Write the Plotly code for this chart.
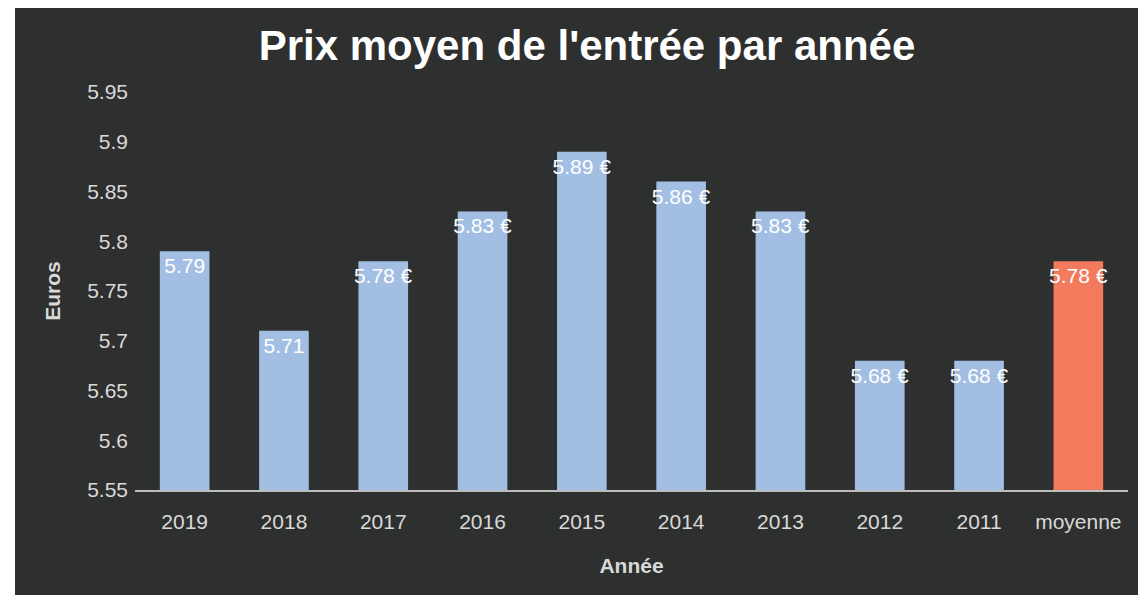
import plotly.graph_objects as go

# Data
annees = ["2019", "2018", "2017", "2016", "2015", "2014", "2013", "2012", "2011", "moyenne"]
prix = [5.79, 5.71, 5.78, 5.83, 5.89, 5.86, 5.83, 5.68, 5.68, 5.78]
etiquettes = ["5.79", "5.71", "5.78 €", "5.83 €", "5.89 €", "5.86 €", "5.83 €", "5.68 €", "5.68 €", "5.78 €"]
y_ticks = [5.55, 5.6, 5.65, 5.7, 5.75, 5.8, 5.85, 5.9, 5.95]

BLUE = "#a3bee3"
RED = "#f47a5e"
BG = "#2e302f"
TXT = "#d9d9d9"

# the page puts the figure 8px in from the top-left corner
W, H = 1138, 594
L, R, T, B = 127, 18, 84, 112

couleurs = [BLUE] * (len(annees) - 1) + [RED]

fig = go.Figure(go.Bar(
    x=annees, y=prix, base=0,
    marker=dict(color=couleurs, line=dict(width=0)),
    text=etiquettes,
    textposition="inside",
    insidetextanchor="end",
    textangle=0,
    constraintext="none",
    textfont=dict(color="white", size=21, family="Liberation Sans"),
    cliponaxis=False,
))

# dark panel of the photographed screen, white margins left and bottom
pw, ph = W - L - R, H - T - B
fig.add_shape(type="rect", xref="paper", yref="paper", layer="below",
              x0=(7 - L) / pw, x1=(W - L) / pw,
              y0=(H - B - 587) / ph, y1=(H - B - 0) / ph,
              fillcolor=BG, line=dict(width=0))

fig.update_layout(
    width=W, height=H,
    margin=dict(l=L, r=R, t=T, b=B),
    paper_bgcolor="white",
    plot_bgcolor="rgba(0,0,0,0)",
    bargap=0.5,
    showlegend=False,
    font=dict(family="Liberation Sans", color=TXT, size=21),
    title=dict(text="<b>Prix moyen de l'entrée par année</b>",
               x=(579 - L) / pw, xref="paper", xanchor="center",
               y=1 - 37 / H, yanchor="middle",
               font=dict(size=42, color="white", family="Liberation Sans")),
    xaxis=dict(showline=True, linecolor="#bdbdbd", linewidth=2,
               ticks="", ticklabelstandoff=12,
               tickfont=dict(size=21, color=TXT),
               title=dict(text="<b>Année</b>", font=dict(size=21, color=TXT), standoff=26)),
    yaxis=dict(range=[5.55, 5.95], tickvals=y_ticks,
               ticktext=[f"{v:g}" for v in y_ticks],
               showgrid=False, zeroline=False, ticks="", ticklabelstandoff=6,
               tickfont=dict(size=21, color=TXT),
               title=dict(text="<b>Euros</b>", font=dict(size=21, color=TXT), standoff=20)),
)

fig.write_html("out.html")
